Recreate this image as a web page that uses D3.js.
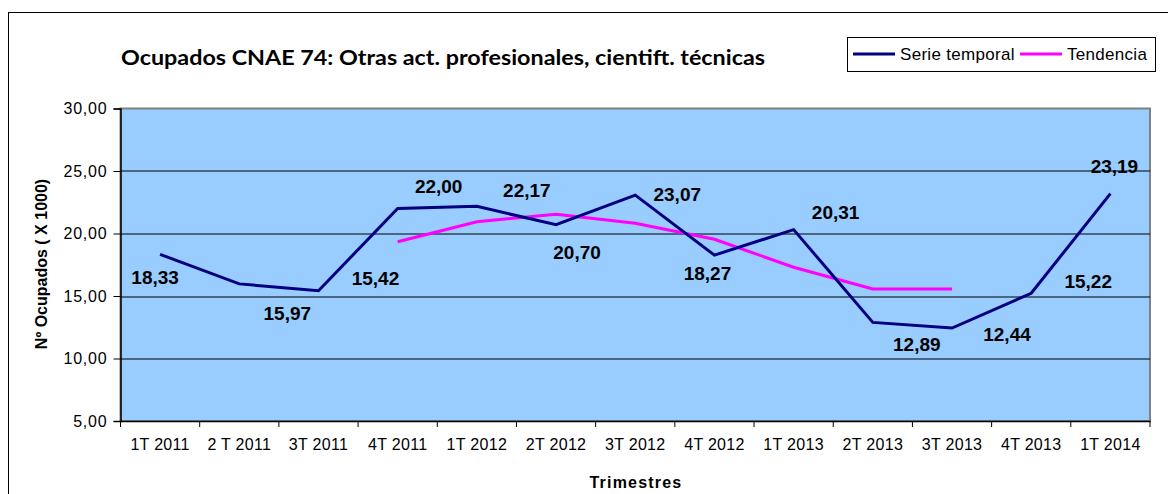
<!DOCTYPE html>
<html>
<head>
<meta charset="utf-8">
<script src="https://cdn.jsdelivr.net/npm/d3@7"></script>
<style>
  body { margin: 0; background: #fff; }
  svg { display: block; }
</style>
</head>
<body>
<div id="chart"></div>
<script>
// data
const categories = ["1T 2011", "2 T 2011", "3T 2011", "4T 2011", "1T 2012", "2T 2012", "3T 2012",
  "4T 2012", "1T 2013", "2T 2013", "3T 2013", "4T 2013", "1T 2014"]
const serieValues = [18.33, 15.97, 15.42, 22.00, 22.17, 20.70, 23.07, 18.27, 20.31, 12.89, 12.44, 15.22, 23.19]
const tendenciaValues = [null, null, null, 19.34, 20.94, 21.54, 20.82, 19.54, 17.30, 15.56, 15.56, null, null]
const yTicks = [5, 10, 15, 20, 25, 30]

// where each value label sits relative to its point (px)
const labelOffsets = [[-5, 23], [48, 30], [57, -12], [41, -22], [50, -16], [21, 28], [42, -1],
  [-7, 18], [42, -17], [44, 22], [55, 6], [57, -12], [4, -27]]

const width = 1168
const height = 494
const dimensions = {
  margin: { top: 108.5, right: 18, bottom: 73, left: 120.5 },
}
dimensions.boundedWidth = width - dimensions.margin.left - dimensions.margin.right
dimensions.boundedHeight = height - dimensions.margin.top - dimensions.margin.bottom

const fmt = v => d3.format(".2f")(v).replace(".", ",")

const svg = d3.select("#chart").append("svg")
  .attr("width", width)
  .attr("height", height)
  .style("font-family", "'Liberation Sans', Arial, sans-serif")

// outer frame
svg.append("rect")
  .attr("x", 8.5).attr("y", 12.5)
  .attr("width", width + 10).attr("height", height + 10)
  .attr("fill", "#fff").attr("stroke", "#000").attr("stroke-width", 1)

const bounds = svg.append("g")
  .attr("transform", `translate(${dimensions.margin.left},${dimensions.margin.top})`)

const xScale = d3.scaleBand()
  .domain(categories)
  .range([0, dimensions.boundedWidth])

const yScale = d3.scaleLinear()
  .domain([5, 30])
  .range([dimensions.boundedHeight, 0])

const xPos = d => xScale(d) + xScale.bandwidth() / 2

// plot area
bounds.append("rect")
  .attr("width", dimensions.boundedWidth)
  .attr("height", dimensions.boundedHeight)
  .attr("fill", "#99ccff")
  .attr("stroke", "#808080")
  .attr("stroke-width", 2)

// gridlines
bounds.selectAll(".grid")
  .data(yTicks.filter(t => t > 5 && t < 30))
  .enter().append("line")
  .attr("x1", 0).attr("x2", dimensions.boundedWidth)
  .attr("y1", d => Math.round(yScale(d)) + 0.5)
  .attr("y2", d => Math.round(yScale(d)) + 0.5)
  .attr("stroke", "#000").attr("stroke-width", 1)

// y axis
const yAxis = bounds.append("g")
  .call(d3.axisLeft(yScale).tickValues(yTicks).tickFormat(fmt).tickSize(7).tickPadding(6))
yAxis.select(".domain").attr("stroke", "#000").attr("stroke-width", 1.5)
yAxis.selectAll("text")
  .attr("fill", "#000")
  .style("font-size", "16px")
  .style("letter-spacing", "0.8px")

// x axis
const xAxis = bounds.append("g")
  .attr("transform", `translate(0,${dimensions.boundedHeight})`)
  .call(d3.axisBottom(xScale).tickSize(0).tickPadding(18))
xAxis.select(".domain").attr("stroke", "#000").attr("stroke-width", 1.5)
xAxis.selectAll("text")
  .attr("fill", "#000")
  .style("font-size", "16px")
  .style("letter-spacing", "0.3px")
xAxis.selectAll(".bound")
  .data(d3.range(categories.length + 1))
  .enter().append("line")
  .attr("x1", i => i * xScale.step())
  .attr("x2", i => i * xScale.step())
  .attr("y1", 0).attr("y2", 6)
  .attr("stroke", "#000")

// lines
const serieLine = d3.line()
  .x((d, i) => xPos(categories[i]))
  .y(d => yScale(d))

const trendLine = d3.line()
  .defined(d => d !== null)
  .x((d, i) => xPos(categories[i]))
  .y(d => yScale(d))

bounds.append("path")
  .datum(tendenciaValues)
  .attr("d", trendLine)
  .attr("fill", "none")
  .attr("stroke", "#ff00ff")
  .attr("stroke-width", 3)

bounds.append("path")
  .datum(serieValues)
  .attr("d", serieLine)
  .attr("fill", "none")
  .attr("stroke", "#000080")
  .attr("stroke-width", 3)

// value labels
bounds.selectAll(".val")
  .data(serieValues)
  .enter().append("text")
  .attr("x", (d, i) => xPos(categories[i]) + labelOffsets[i][0])
  .attr("y", (d, i) => yScale(d) + labelOffsets[i][1])
  .attr("text-anchor", "middle")
  .attr("dominant-baseline", "central")
  .style("font-size", "19px")
  .style("font-weight", "bold")
  .text(fmt)

// title
svg.append("text")
  .attr("x", 121).attr("y", 65)
  .attr("textLength", 644)
  .attr("lengthAdjust", "spacingAndGlyphs")
  .style("font-family", "Lato, 'Open Sans', sans-serif")
  .style("font-size", "20px")
  .style("font-weight", "bold")
  .text("Ocupados CNAE 74: Otras act. profesionales, cientift. técnicas")

// axis titles
svg.append("text")
  .attr("transform", "translate(47,264) rotate(-90)")
  .attr("text-anchor", "middle")
  .style("font-size", "16px")
  .style("font-weight", "bold")
  .text("Nº Ocupados ( X 1000)")

svg.append("text")
  .attr("x", 636).attr("y", 488)
  .attr("text-anchor", "middle")
  .style("font-size", "16px")
  .style("font-weight", "bold")
  .style("letter-spacing", "1.2px")
  .text("Trimestres")

// legend
const legend = svg.append("g")
legend.append("rect")
  .attr("x", 847.5).attr("y", 37.5)
  .attr("width", 308).attr("height", 34)
  .attr("fill", "#fff").attr("stroke", "#000")
const legendItems = [
  { name: "Serie temporal", color: "#000080", x: 853 },
  { name: "Tendencia", color: "#ff00ff", x: 1020 },
]
legend.selectAll(".item-line")
  .data(legendItems)
  .enter().append("line")
  .attr("x1", d => d.x).attr("x2", d => d.x + 42)
  .attr("y1", 54).attr("y2", 54)
  .attr("stroke", d => d.color).attr("stroke-width", 3)
legend.selectAll(".item-text")
  .data(legendItems)
  .enter().append("text")
  .attr("x", d => d.x + 47).attr("y", 60)
  .style("font-size", "17px")
  .style("letter-spacing", "0.3px")
  .text(d => d.name)
</script>
</body>
</html>
